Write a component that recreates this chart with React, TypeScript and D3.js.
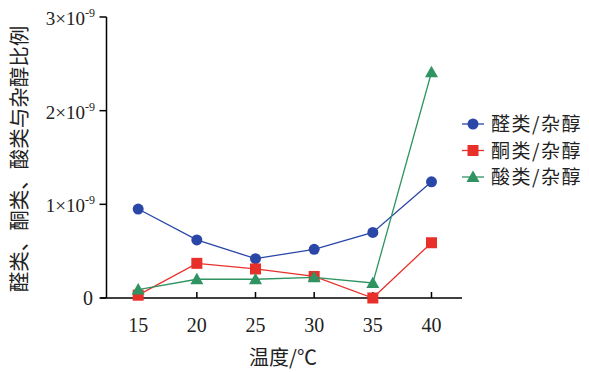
import React from "react";
import * as d3 from "d3";

const temps = [15, 20, 25, 30, 35, 40];
const aldehyde = [0.95, 0.62, 0.42, 0.52, 0.7, 1.24];
const ketone = [0.03, 0.37, 0.31, 0.23, 0.0, 0.59];
const acid = [0.09, 0.2, 0.2, 0.22, 0.16, 2.41];
const seriesNames = ["醛类/杂醇", "酮类/杂醇", "酸类/杂醇"];
const yTicks = [0, 1, 2, 3];
const yTitle = "醛类、酮类、酸类与杂醇比例";
const xTitle = "温度/℃";

const W = 589;
const H = 372;
const x = d3.scaleLinear().domain([12.3, 42.6]).range([106.5, 462]);
const y = d3.scaleLinear().domain([0, 3]).range([298, 17]);

const colors = ["#2a47a8", "#e8302b", "#2f9462"];
const cjk = "'Noto Sans CJK SC', 'Noto Sans', sans-serif";
const serif = "'Liberation Serif', 'Times New Roman', serif";

function Marker({ kind, cx, cy, color }: { kind: number; cx: number; cy: number; color: string }) {
  if (kind === 0) return <circle cx={cx} cy={cy} r={5.5} fill={color} />;
  if (kind === 1) return <rect x={cx - 5.5} y={cy - 5.5} width={11} height={11} fill={color} />;
  const s = 6.5;
  return (
    <path
      d={`M${cx},${cy - s} L${cx + s},${cy + s * 0.75} L${cx - s},${cy + s * 0.75} Z`}
      fill={color}
    />
  );
}

export default function App() {
  const series = [aldehyde, ketone, acid];
  const line = d3
    .line<[number, number]>()
    .x((d) => x(d[0]))
    .y((d) => y(d[1]));
  return (
    <svg
      width={W}
      height={H}
      style={{ position: "absolute", left: 0, top: 0, background: "#fff" }}
    >
      {/* axes */}
      <line x1={x.range()[0]} x2={x.range()[0]} y1={y(3)} y2={y(0)} stroke="#000" strokeWidth={1.5} />
      <line x1={x.range()[0] - 6} x2={x.range()[1]} y1={y(0)} y2={y(0)} stroke="#000" strokeWidth={1.5} />
      {yTicks.map((t) => (
        <g key={t}>
          <line x1={x.range()[0] - 7} x2={x.range()[0]} y1={y(t)} y2={y(t)} stroke="#000" strokeWidth={1.5} />
          {t === 0 ? (
            <text x={93} y={y(t) + 7} textAnchor="end" fontFamily={serif} fontSize={20} fill="#222">
              0
            </text>
          ) : (
            <text x={95} y={y(t) + 8} textAnchor="end" fontFamily={serif} fontSize={19} fill="#222">
              {t}×10
              <tspan dy={-8} fontSize={12}>
                -9
              </tspan>
            </text>
          )}
        </g>
      ))}
      {temps.map((t) => (
        <g key={t}>
          <line x1={x(t)} x2={x(t)} y1={y(0)} y2={y(0) - 6} stroke="#000" strokeWidth={1.5} />
          <text x={x(t)} y={332} textAnchor="middle" fontFamily={serif} fontSize={20} fill="#222">
            {t}
          </text>
        </g>
      ))}
      <text x={283} y={365} textAnchor="middle" fontFamily={cjk} fontSize={20} fill="#222">
        {xTitle}
      </text>
      <text
        transform={`translate(27,159) rotate(-90)`}
        textAnchor="middle"
        fontFamily={cjk}
        fontSize={20.5}
        fill="#222"
      >
        {yTitle}
      </text>
      {/* series */}
      {series.map((vals, i) => {
        const pts = temps.map((t, j) => [t, vals[j]] as [number, number]);
        return (
          <g key={i}>
            <path d={line(pts) || ""} fill="none" stroke={colors[i]} strokeWidth={1.3} />
            {pts.map((p, j) => (
              <Marker key={j} kind={i} cx={x(p[0])} cy={y(p[1])} color={colors[i]} />
            ))}
          </g>
        );
      })}
      {/* legend */}
      {seriesNames.map((n, i) => {
        const cy = 124 + i * 26.5;
        return (
          <g key={n}>
            <line x1={462} x2={484} y1={cy} y2={cy} stroke={colors[i]} strokeWidth={1.3} />
            <Marker kind={i} cx={473} cy={cy} color={colors[i]} />
            <text x={491} y={cy + 7} fontFamily={cjk} fontSize={19} letterSpacing={1.5} fill="#222">
              {n}
            </text>
          </g>
        );
      })}
    </svg>
  );
}
